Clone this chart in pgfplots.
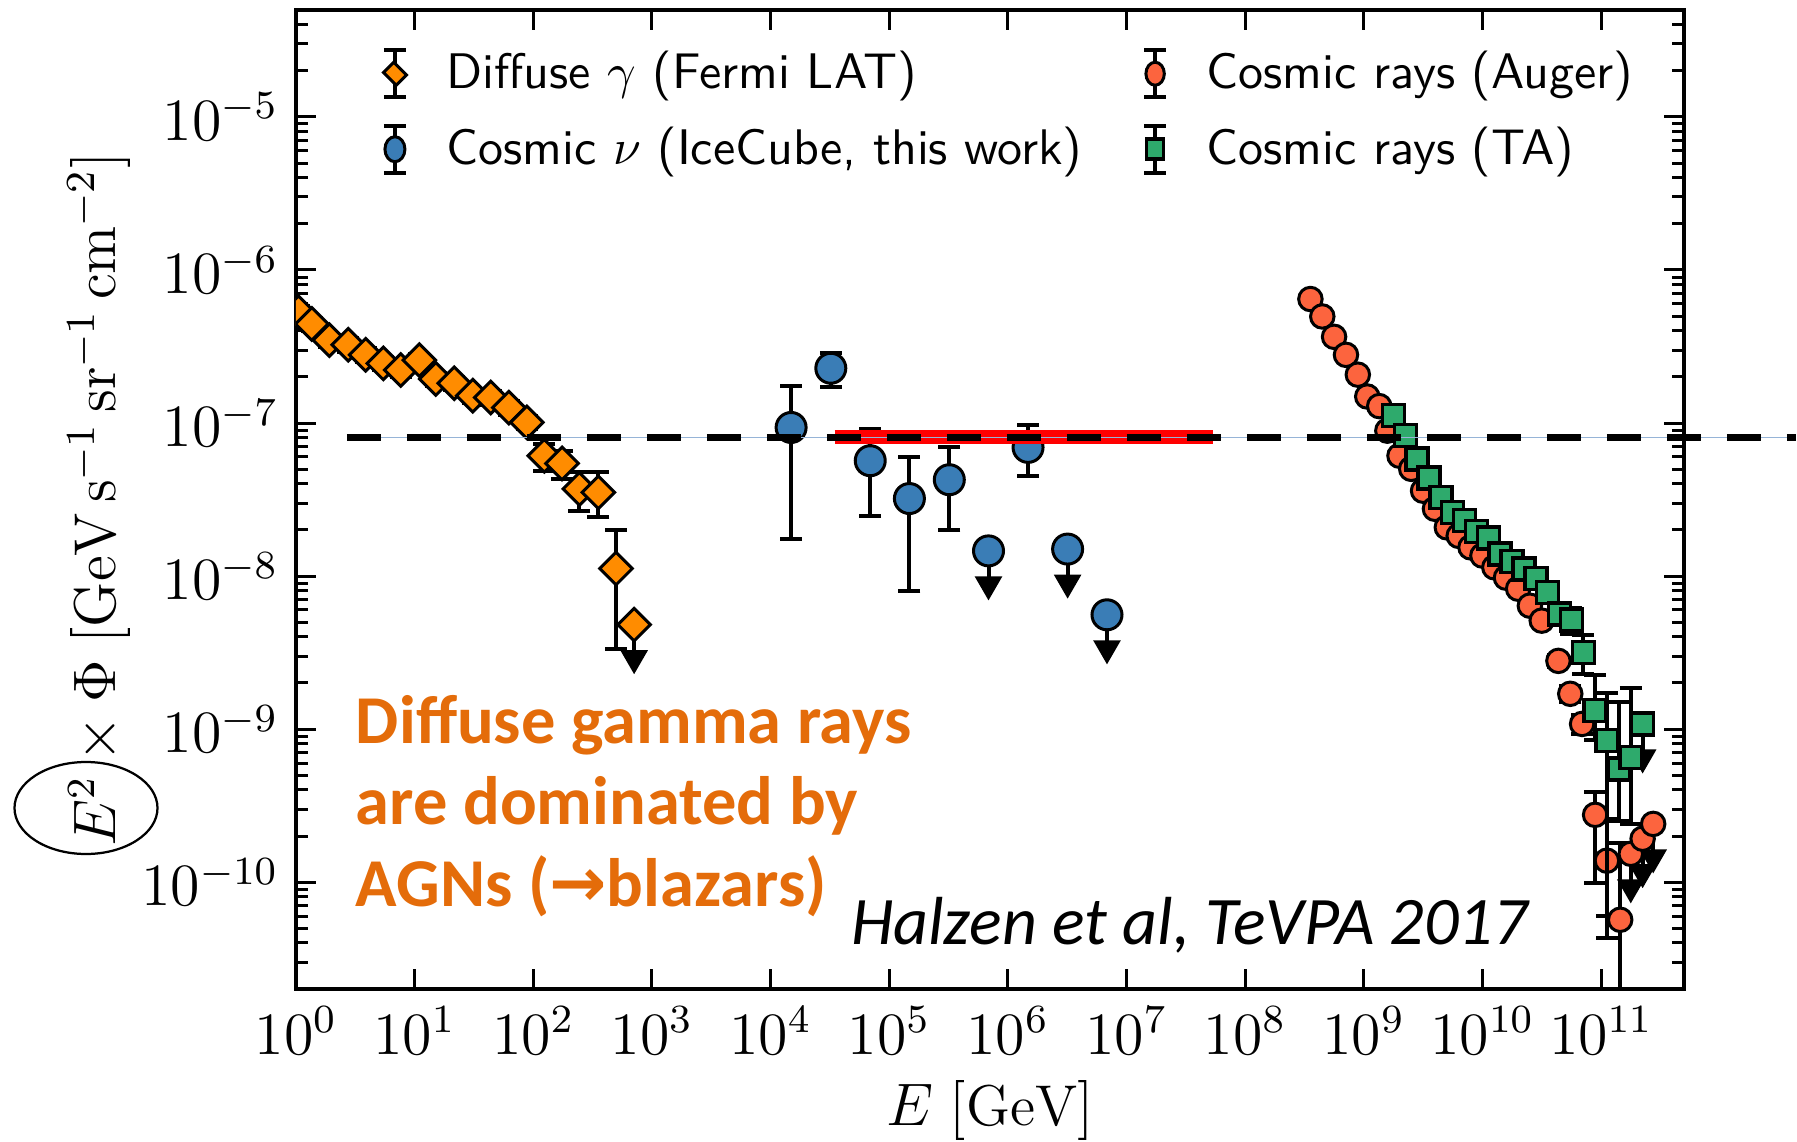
\documentclass[border=0pt]{standalone}
\usepackage{fontspec}
\usepackage{pgfplots}
\usepackage{pgfplotstable}
\pgfplotsset{compat=1.18}
\usetikzlibrary{calc}
\newfontfamily\carlito{Carlito}
\newfontfamily\djv{DejaVu Sans}
\definecolor{cfermi}{RGB}{255,140,0}
\definecolor{cice}{RGB}{58,125,182}
\definecolor{cauger}{RGB}{252,100,62}
\definecolor{cta}{RGB}{46,170,108}
\definecolor{corange}{RGB}{228,108,10}
\definecolor{thinblue}{RGB}{150,180,215}

\pgfplotstableread{
x y ep em
1.05 5.3e-7 5.3e-8 5.3e-8
1.36 4.44e-7 4.4e-8 4.4e-8
1.91 3.48e-7 3.5e-8 3.5e-8
2.76 3.25e-7 3.2e-8 3.2e-8
3.87 2.79e-7 2.8e-8 2.8e-8
5.45 2.45e-7 2.4e-8 2.4e-8
7.64 2.22e-7 2.2e-8 2.2e-8
10.96 2.58e-7 2.6e-8 2.6e-8
15.1 1.94e-7 1.9e-8 1.9e-8
21.6 1.82e-7 1.8e-8 1.8e-8
30.9 1.51e-7 1.5e-8 1.5e-8
43.8 1.47e-7 1.5e-8 1.5e-8
62.2 1.26e-7 1.3e-8 1.3e-8
88.2 1.01e-7 1.0e-8 1.0e-8
124 6.11e-8 1.19e-8 1.23e-8
175 5.44e-8 1.16e-8 1.14e-8
245 3.71e-8 1.04e-8 1.04e-8
354 3.52e-8 1.23e-8 1.10e-8
499 1.12e-8 8.8e-9 7.87e-9
}\tabFermi
\pgfplotstableread{
x y em ah
708 4.81e-9 1.905e-9 2.905e-9
}\tabFermiUL

\pgfplotstableread{
x y ep em
1.49e4 9.35e-8 8.15e-8 7.6e-8
3.22e4 2.28e-7 5.7e-8 5.5e-8
6.92e4 5.67e-8 3.47e-8 3.22e-8
1.48e5 3.21e-8 2.75e-8 2.41e-8
3.21e5 4.26e-8 2.67e-8 2.26e-8
1.48e6 6.93e-8 2.77e-8 2.4e-8
}\tabIce
\pgfplotstableread{
x y em ah
6.87e5 1.46e-8 5.78e-9 8.82e-9
3.19e6 1.5e-8 5.94e-9 9.06e-9
6.85e6 5.58e-9 2.21e-9 3.37e-9
}\tabIceUL

\pgfplotstableread{
x y ep em
3.55e8 6.46e-7 2.6e-8 2.6e-8
4.47e8 4.97e-7 2.0e-8 2.0e-8
5.62e8 3.66e-7 1.5e-8 1.5e-8
7.08e8 2.79e-7 1.1e-8 1.1e-8
8.91e8 2.07e-7 8e-9 8e-9
1.07e9 1.49e-7 6e-9 6e-9
1.35e9 1.29e-7 5e-9 5e-9
1.58e9 8.91e-8 3.6e-9 3.6e-9
2.0e9 6.11e-8 2.4e-9 2.4e-9
2.51e9 5.02e-8 2.0e-9 2.0e-9
3.16e9 3.61e-8 1.4e-9 1.4e-9
3.98e9 2.75e-8 1.1e-9 1.1e-9
5.01e9 2.08e-8 8e-10 8e-10
6.31e9 1.83e-8 7e-10 7e-10
7.94e9 1.54e-8 6e-10 6e-10
1.0e10 1.36e-8 5e-10 5e-10
1.26e10 1.14e-8 5e-10 5e-10
1.58e10 9.75e-9 4e-10 4e-10
2.0e10 8.26e-9 4e-10 4e-10
2.51e10 6.4e-9 3e-10 3e-10
3.16e10 5.11e-9 3e-10 3e-10
4.37e10 2.79e-9 2.5e-10 2.5e-10
5.5e10 1.70e-9 2e-10 2e-10
6.92e10 1.08e-9 1.5e-10 1.5e-10
8.91e10 2.75e-10 1.11e-10 1.76e-10
1.12e11 1.38e-10 1.2e-10 7.8e-11
1.45e11 5.67e-11 1.23e-10 4.17e-11
}\tabAuger
\pgfplotstableread{
x y em ah
1.78e11 1.53e-10 6.06e-11 9.24e-11
2.24e11 1.92e-10 7.6e-11 1.16e-10
2.75e11 2.4e-10 9.5e-11 1.45e-10
}\tabAugerUL

\pgfplotstableread{
x y ep em
1.78e9 1.116e-7 4e-9 4e-9
2.24e9 8.26e-8 3e-9 3e-9
2.82e9 5.82e-8 2.2e-9 2.2e-9
3.55e9 4.37e-8 1.7e-9 1.7e-9
4.47e9 3.27e-8 1.3e-9 1.3e-9
5.62e9 2.61e-8 1.1e-9 1.1e-9
7.08e9 2.30e-8 1.0e-9 1.0e-9
8.91e9 1.96e-8 9e-10 9e-10
1.12e10 1.77e-8 8e-10 8e-10
1.41e10 1.39e-8 7e-10 7e-10
1.78e10 1.24e-8 7e-10 7e-10
2.24e10 1.11e-8 7e-10 7e-10
2.82e10 9.6e-9 7e-10 7e-10
3.55e10 7.81e-9 7e-10 7e-10
4.47e10 5.65e-9 7e-10 7e-10
5.62e10 5.16e-9 1.04e-9 9.6e-10
7.08e10 3.17e-9 9.3e-10 8.7e-10
8.91e10 1.32e-9 9.5e-10 4.7e-10
1.12e11 8.4e-10 8.9e-10 7.97e-10
1.41e11 5.48e-10 9.5e-10 2.98e-10
1.78e11 6.52e-10 1.19e-9 4.12e-10
}\tabTA
\pgfplotstableread{
x y em ah
2.24e11 1.08e-9 4.28e-10 6.52e-10
}\tabTAUL

\pgfplotsset{
  errbars/.style={draw=none, mark=none, forget plot,
    error bars/.cd, y dir=both, y explicit,
    error bar style={black, line width=0.8pt},
    error mark options={rotate=90, black, line width=0.8pt, mark size=2.2pt}},
  ulbars/.style={draw=none, mark=none, forget plot,
    error bars/.cd, y dir=minus, y explicit, error mark=none,
    error bar style={black, line width=0.8pt}},
  arrowhead/.style={only marks, forget plot, mark=triangle*, mark size=2.9pt,
    mark options={rotate=180, fill=black, draw=black, line width=0.3pt}},
  mfermi/.style={only marks, mark=square*, mark size=2.3pt,
    mark options={rotate=45, fill=cfermi, draw=black, line width=0.6pt}},
  mice/.style={only marks, mark=*, mark size=3.0pt,
    mark options={fill=cice, draw=black, line width=0.6pt}},
  mauger/.style={only marks, mark=*, mark size=2.35pt,
    mark options={fill=cauger, draw=black, line width=0.6pt}},
  mta/.style={only marks, mark=square*, mark size=2.2pt,
    mark options={fill=cta, draw=black, line width=0.7pt}},
  errleg/.style={legend image code/.code={
    \draw[black, line width=0.8pt] (0pt,-4.7pt) -- (0pt,4.7pt);
    \draw[black, line width=0.8pt] (-2.2pt,-4.7pt) -- (2.2pt,-4.7pt);
    \draw[black, line width=0.8pt] (-2.2pt,4.7pt) -- (2.2pt,4.7pt);
    \draw plot coordinates {(0pt,0pt)};
  }},
}

\begin{document}
\begin{tikzpicture}
\begin{axis}[
  scale only axis, width=277.6pt, height=195.8pt,
  xmode=log, ymode=log,
  xmin=1, xmax=5e11, ymin=2e-11, ymax=5e-5,
  xtick={1,10,100,1e3,1e4,1e5,1e6,1e7,1e8,1e9,1e10,1e11},
  ytick={1e-10,1e-9,1e-8,1e-7,1e-6,1e-5},
  xminorticks=false,
  minor ytick={2e-11,3e-11,4e-11,5e-11,6e-11,7e-11,8e-11,9e-11,
    2e-10,3e-10,4e-10,5e-10,6e-10,7e-10,8e-10,9e-10,
    2e-9,3e-9,4e-9,5e-9,6e-9,7e-9,8e-9,9e-9,
    2e-8,3e-8,4e-8,5e-8,6e-8,7e-8,8e-8,9e-8,
    2e-7,3e-7,4e-7,5e-7,6e-7,7e-7,8e-7,9e-7,
    2e-6,3e-6,4e-6,5e-6,6e-6,7e-6,8e-6,9e-6,
    2e-5,3e-5,4e-5},
  tick align=inside,
  major tick length=4pt, minor tick length=2.4pt,
  every tick/.style={black, line width=0.6pt},
  axis line style={line width=0.9pt},
  tick label style={font=\fontsize{11.5}{13.8}\selectfont},
  xlabel={$E\;[\mathrm{GeV}]$},
  ylabel={$E^2\times\Phi\;[\mathrm{GeV\,s^{-1}\,sr^{-1}\,cm^{-2}}]$},
  every axis x label/.style={at={(axis description cs:0.5,-0.139)}, anchor=base,
    font=\fontsize{11.5}{14}\selectfont},
  every axis y label/.style={at={(axis description cs:-0.1297,0.5)}, anchor=base, rotate=90,
    font=\fontsize{11.8}{15}\selectfont},
  clip marker paths=true,
  legend columns=2,
  legend cell align=left,
  legend style={draw=none, fill=none, at={(0.0612,0.962)}, anchor=north west,
    inner xsep=0pt, inner ysep=0pt,
    font=\sffamily\fontsize{10}{12}\selectfont,
    nodes={inner sep=0pt},
    row sep=4.9pt,
    /tikz/every odd column/.append style={column sep=7.7pt},
    /tikz/every even column/.append style={column sep=12.0pt}},
]
% Fermi
\addplot[errbars] table[x=x, y=y, y error plus=ep, y error minus=em] {\tabFermi};
\addplot[ulbars] table[x=x, y=y, y error minus=em] {\tabFermiUL};
\addplot[arrowhead] table[x=x, y=ah] {\tabFermiUL};
\addplot[mfermi, forget plot] table[x=x, y=y] {\tabFermi};
\addplot[mfermi, forget plot] table[x=x, y=y] {\tabFermiUL};
% IceCube
\addplot[errbars] table[x=x, y=y, y error plus=ep, y error minus=em] {\tabIce};
\addplot[ulbars] table[x=x, y=y, y error minus=em] {\tabIceUL};
\addplot[arrowhead] table[x=x, y=ah] {\tabIceUL};
\addplot[mice, forget plot] table[x=x, y=y] {\tabIce};
\addplot[mice, forget plot] table[x=x, y=y] {\tabIceUL};
% Auger
\addplot[errbars] table[x=x, y=y, y error plus=ep, y error minus=em] {\tabAuger};
\addplot[ulbars] table[x=x, y=y, y error minus=em] {\tabAugerUL};
\addplot[arrowhead] table[x=x, y=ah] {\tabAugerUL};
\addplot[mauger, forget plot] table[x=x, y=y] {\tabAuger};
\addplot[mauger, forget plot] table[x=x, y=y] {\tabAugerUL};
% TA
\addplot[errbars] table[x=x, y=y, y error plus=ep, y error minus=em] {\tabTA};
\addplot[ulbars] table[x=x, y=y, y error minus=em] {\tabTAUL};
\addplot[arrowhead] table[x=x, y=ah] {\tabTAUL};
\addplot[mta, forget plot] table[x=x, y=y] {\tabTA};
\addplot[mta, forget plot] table[x=x, y=y] {\tabTAUL};
% legend
\addlegendimage{errleg, only marks, mark=square*, mark size=1.8pt,
  mark options={rotate=45, xscale=0.8, fill=cfermi, draw=black, line width=0.6pt}}
\addlegendentry{Diffuse $\gamma$ (Fermi LAT)}
\addlegendimage{errleg, only marks, mark=*, mark size=2.3pt,
  mark options={xscale=0.8, fill=cauger, draw=black, line width=0.6pt}}
\addlegendentry{Cosmic rays (Auger)}
\addlegendimage{errleg, only marks, mark=*, mark size=2.5pt,
  mark options={xscale=0.8, fill=cice, draw=black, line width=0.6pt}}
\addlegendentry{Cosmic $\nu$ (IceCube, this work)}
\addlegendimage{errleg, only marks, mark=square*, mark size=2.0pt,
  mark options={xscale=0.85, fill=cta, draw=black, line width=0.7pt}}
\addlegendentry{Cosmic rays (TA)}
\end{axis}
\begin{axis}[
  scale only axis, width=277.6pt, height=195.8pt,
  xmode=log, ymode=log,
  xmin=1, xmax=5e11, ymin=2e-11, ymax=5e-5,
  hide axis, clip=false]
\addplot[red, line width=2.8pt] coordinates {(3.46e4,8.05e-8) (5.37e7,8.05e-8)};
\addplot[thinblue, line width=0.3pt] coordinates {(2.69,8.05e-8) (4.4e12,8.05e-8)};
\addplot[black, line width=1.25pt, dash pattern=on 6.8pt off 5.2pt] coordinates {(2.69,8.05e-8) (4.4e12,8.05e-8)};
\end{axis}
\node[anchor=base west, inner sep=0pt, text=corange, font=\carlito\bfseries\fontsize{13.7}{16.3}\selectfont]
  at ($(current axis.south west)+(11.8pt,49.2pt)$) {Diffuse gamma rays};
\node[anchor=base west, inner sep=0pt, text=corange, font=\carlito\bfseries\fontsize{13.7}{16.3}\selectfont]
  at ($(current axis.south west)+(11.8pt,32.9pt)$) {are dominated by};
\node[anchor=base west, inner sep=0pt, text=corange, font=\carlito\bfseries\fontsize{13.7}{16.3}\selectfont]
  at ($(current axis.south west)+(11.8pt,16.6pt)$) {AGNs ({\djv\bfseries →}blazars)};
\node[anchor=base west, inner sep=0pt, font=\carlito\itshape\fontsize{13.6}{16}\selectfont]
  at ($(current axis.south west)+(110.8pt,9.0pt)$) {Halzen et al, TeVPA 2017};
\draw[black, line width=0.45pt] ($(current axis.south west)+(-42pt,36.2pt)$) ellipse [x radius=14.3pt, y radius=9.2pt];
\pgfresetboundingbox
\path[use as bounding box] ($(current axis.south west)+(-59.2pt,-30.4pt)$) rectangle ++(359.4pt,228.2pt);
\end{tikzpicture}
\end{document}
